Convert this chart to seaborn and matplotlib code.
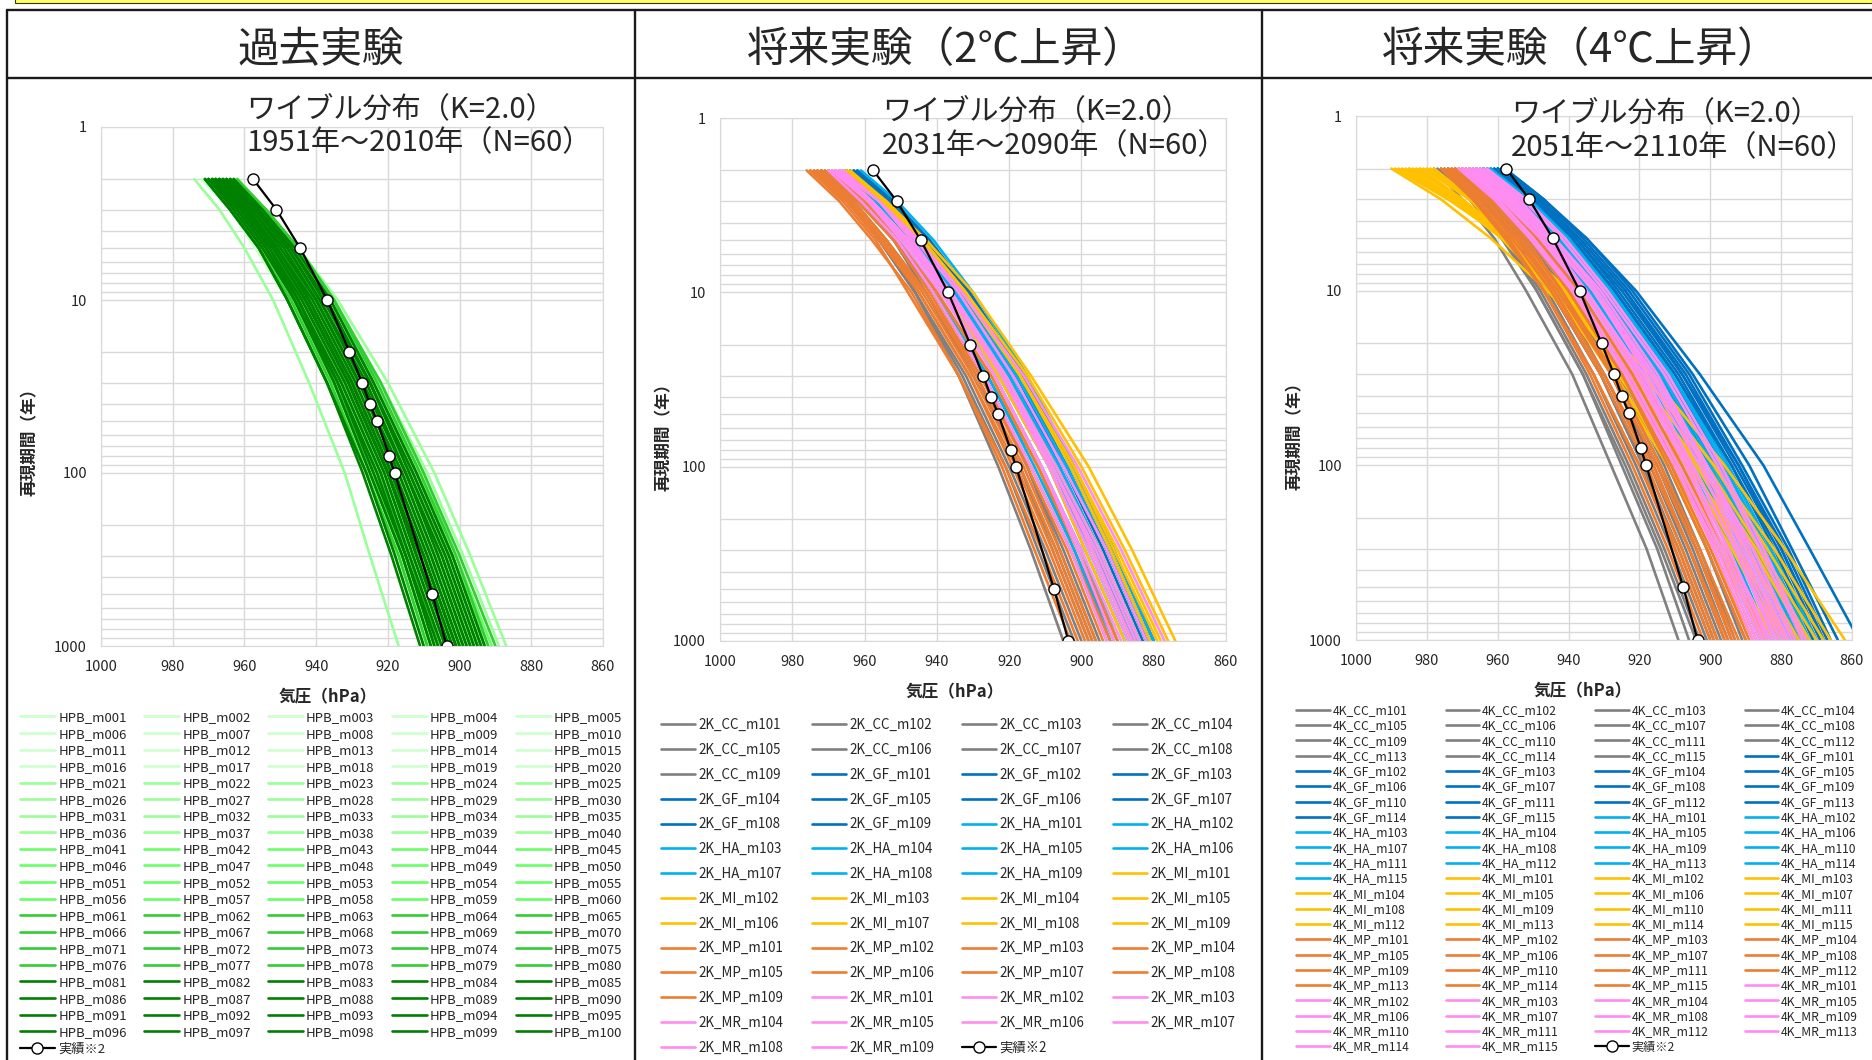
import numpy as np
import pandas as pd
import seaborn as sns
import matplotlib.pyplot as plt
from matplotlib.lines import Line2D
from matplotlib.patches import Rectangle
from matplotlib.ticker import LogLocator, NullFormatter

RP = [2, 3, 5, 10, 30, 100, 300, 1000]

# observed typhoons (実績)
OBS_T = [2, 3, 5, 10, 20, 30, 40, 50, 80, 100, 500, 1000]
OBS_P = [957.6, 951.1, 944.5, 936.9, 930.7, 927.2, 925.0, 923.0, 919.6, 918.1, 907.6, 903.6]

# ---- past experiment HPB_m001..m100 : pressure (hPa) at each return period ----
HPB_NAMES = [f"HPB_m{i:03d}" for i in range(1, 101)]
HPB_SHADES = ["#CCFFCC", "#99FF99", "#66FF66", "#33CC33", "#008000"]  # 20 members each
HPB_P2 = [968, 966, 970, 964, 969, 967, 971, 965, 968, 963,
          970, 966, 972, 967, 964, 969, 965, 971, 968, 966,
          974, 967, 963, 969, 965, 970, 964, 968, 966, 971,
          967, 965, 969, 962, 968, 970, 966, 964, 969, 967,
          968, 965, 970, 963, 967, 969, 966, 971, 964, 968,
          966, 970, 965, 967, 969, 963, 968, 966, 971, 964,
          967, 963, 969, 965, 968, 962, 970, 966, 964, 968,
          966, 971, 965, 969, 967, 963, 968, 970, 964, 966,
          968, 966, 970, 964, 969, 967, 971, 965, 968, 963,
          970, 966, 969, 967, 964, 971, 968, 965, 969, 967]
HPB_P3 = [960, 958, 962, 956, 961, 959, 963, 957, 960, 955,
          962, 958, 964, 959, 956, 961, 957, 963, 960, 958,
          967, 959, 954, 961, 957, 962, 955, 960, 958, 964,
          959, 957, 961, 954, 960, 963, 958, 956, 961, 959,
          960, 957, 962, 954, 959, 961, 958, 964, 956, 960,
          958, 962, 957, 959, 962, 954, 960, 958, 964, 956,
          959, 954, 961, 957, 960, 954, 963, 958, 956, 960,
          958, 964, 957, 961, 959, 955, 960, 962, 956, 958,
          960, 958, 963, 956, 961, 959, 964, 957, 960, 955,
          962, 958, 961, 959, 956, 964, 960, 957, 962, 959]
HPB_P5 = [952, 950, 954, 948, 953, 951, 956, 949, 952, 946,
          954, 950, 957, 951, 947, 954, 949, 955, 952, 950,
          960, 951, 945, 953, 949, 955, 946, 952, 950, 956,
          952, 948, 954, 945, 952, 955, 949, 947, 953, 951,
          952, 948, 955, 945, 951, 953, 950, 956, 947, 952,
          949, 954, 948, 951, 954, 946, 951, 951, 956, 947,
          951, 945, 954, 948, 952, 945, 955, 950, 947, 952,
          950, 956, 948, 953, 951, 946, 952, 955, 947, 949,
          952, 950, 955, 947, 953, 951, 956, 948, 952, 946,
          954, 949, 953, 951, 947, 956, 952, 948, 954, 951]
HPB_P10 = [943, 940, 946, 938, 944, 942, 947, 939, 943, 937,
           945, 941, 948, 943, 938, 945, 940, 947, 944, 941,
           952, 942, 934, 945, 940, 946, 935, 943, 941, 947,
           943, 939, 945, 936, 943, 946, 940, 938, 944, 942,
           944, 939, 946, 936, 942, 945, 940, 948, 937, 943,
           940, 946, 939, 942, 946, 936, 942, 942, 947, 938,
           942, 935, 945, 939, 944, 935, 946, 941, 937, 943,
           940, 947, 939, 945, 942, 936, 943, 946, 938, 940,
           943, 940, 946, 937, 945, 942, 948, 939, 943, 936,
           946, 940, 944, 941, 938, 948, 943, 939, 945, 942]
HPB_P30 = [931, 928, 934, 926, 932, 930, 936, 927, 931, 925,
           933, 929, 937, 931, 926, 934, 928, 935, 932, 929,
           942, 930, 920, 933, 928, 935, 922, 931, 929, 936,
           932, 927, 934, 923, 931, 935, 928, 925, 932, 930,
           932, 926, 935, 922, 930, 933, 928, 937, 925, 931,
           928, 934, 927, 930, 935, 923, 930, 931, 936, 925,
           930, 922, 934, 927, 932, 923, 935, 929, 925, 931,
           928, 936, 926, 933, 930, 924, 931, 935, 925, 928,
           931, 928, 935, 925, 933, 930, 937, 926, 931, 924,
           934, 928, 932, 929, 925, 937, 931, 927, 934, 930]
HPB_P100 = [920, 917, 923, 915, 921, 919, 925, 916, 920, 913,
            922, 918, 926, 920, 914, 923, 917, 924, 921, 918,
            932, 919, 907, 922, 917, 924, 909, 920, 918, 926,
            921, 915, 923, 912, 920, 925, 916, 914, 921, 919,
            921, 915, 924, 910, 919, 922, 917, 926, 913, 920,
            916, 923, 915, 919, 924, 911, 918, 920, 926, 914,
            919, 910, 923, 915, 921, 911, 925, 918, 913, 920,
            917, 926, 915, 922, 919, 912, 920, 924, 914, 916,
            920, 917, 925, 913, 922, 919, 926, 915, 920, 912,
            923, 916, 921, 918, 914, 927, 920, 915, 924, 919]
HPB_P300 = [912, 908, 915, 906, 913, 910, 916, 907, 911, 904,
            914, 909, 917, 912, 905, 914, 908, 916, 913, 910,
            925, 911, 897, 914, 908, 915, 899, 912, 909, 917,
            912, 906, 914, 902, 911, 916, 907, 904, 913, 910,
            913, 905, 915, 901, 910, 914, 908, 918, 903, 912,
            907, 915, 906, 911, 916, 902, 909, 911, 917, 904,
            911, 900, 914, 906, 913, 901, 916, 909, 903, 912,
            908, 917, 905, 914, 910, 902, 911, 915, 904, 907,
            912, 908, 916, 903, 914, 910, 918, 905, 911, 902,
            915, 907, 913, 909, 904, 919, 912, 906, 915, 910]
HPB_P1000 = [903, 899, 906, 897, 904, 901, 908, 898, 902, 895,
             905, 900, 909, 903, 896, 906, 899, 907, 904, 901,
             917, 902, 887, 905, 899, 907, 889, 903, 900, 909,
             904, 897, 906, 893, 902, 908, 898, 895, 904, 901,
             904, 896, 907, 891, 901, 905, 899, 910, 894, 903,
             898, 906, 897, 902, 908, 892, 900, 903, 909, 895,
             902, 890, 906, 897, 904, 892, 908, 900, 894, 903,
             899, 909, 896, 905, 901, 893, 902, 907, 895, 898,
             903, 899, 908, 894, 905, 901, 910, 896, 902, 893,
             906, 898, 904, 900, 895, 911, 903, 897, 907, 901]

# ---- model groups used by the future experiments ----
GROUPS = ["CC", "GF", "HA", "MI", "MP", "MR"]
GROUP_COLORS = ["#808080", "#0070C0", "#00B0F0", "#FFC000", "#ED7D31", "#FF8CF0"]

# ---- +2K experiment, 9 members per group (CC, GF, HA, MI, MP, MR) ----
K2_NAMES = [f"2K_{g}_m{i}" for g in GROUPS for i in range(101, 110)]
K2_P2 = [972, 970, 974, 969, 971, 968, 973, 970, 972,
         964, 963, 965, 962, 966, 964, 963, 965, 962,
         966, 967, 965, 968, 964, 967, 969, 966, 961,
         965, 967, 968, 966, 970, 964, 969, 967, 965,
         975, 973, 976, 972, 974, 971, 975, 973, 970,
         967, 968, 966, 969, 967, 970, 968, 966, 969]
K2_P3 = [964, 961, 965, 960, 962, 959, 964, 961, 963,
         954, 953, 955, 952, 956, 954, 953, 955, 952,
         956, 958, 955, 959, 955, 957, 960, 957, 951,
         954, 956, 958, 955, 960, 954, 959, 958, 955,
         966, 964, 967, 963, 965, 962, 965, 964, 960,
         956, 958, 956, 959, 958, 961, 958, 956, 959]
K2_P5 = [956, 952, 956, 951, 952, 950, 956, 951, 954,
         944, 943, 945, 942, 947, 944, 943, 946, 943,
         946, 948, 945, 949, 945, 947, 950, 947, 941,
         943, 945, 948, 944, 951, 944, 948, 948, 944,
         957, 955, 958, 954, 956, 952, 955, 955, 951,
         945, 948, 947, 950, 949, 951, 948, 946, 949]
K2_P10 = [946, 943, 946, 941, 941, 941, 946, 940, 943,
          933, 931, 934, 931, 936, 933, 931, 935, 932,
          935, 937, 933, 938, 934, 935, 940, 936, 930,
          930, 933, 937, 932, 940, 932, 937, 937, 932,
          948, 945, 947, 943, 945, 942, 943, 944, 940,
          933, 936, 936, 939, 938, 941, 937, 934, 937]
K2_P30 = [934, 929, 932, 927, 927, 927, 933, 926, 930,
          918, 916, 919, 916, 921, 918, 916, 920, 917,
          920, 923, 918, 924, 920, 920, 926, 922, 915,
          914, 917, 922, 915, 925, 917, 921, 923, 917,
          934, 931, 934, 929, 931, 928, 928, 930, 925,
          916, 921, 921, 924, 924, 927, 922, 919, 922]
K2_P100 = [923, 917, 920, 915, 914, 915, 921, 912, 917,
           904, 902, 906, 903, 908, 905, 902, 907, 904,
           907, 909, 904, 911, 907, 906, 913, 908, 902,
           898, 902, 908, 900, 912, 903, 907, 909, 902,
           922, 919, 921, 916, 918, 915, 914, 917, 912,
           901, 907, 908, 911, 911, 914, 909, 905, 908]
K2_P300 = [914, 908, 910, 905, 903, 906, 912, 902, 907,
           893, 891, 895, 892, 897, 894, 891, 896, 893,
           896, 899, 893, 900, 896, 895, 902, 898, 891,
           886, 890, 897, 888, 901, 892, 895, 899, 891,
           913, 909, 911, 906, 908, 904, 903, 907, 901,
           889, 895, 897, 900, 901, 903, 898, 893, 896]
K2_P1000 = [905, 898, 900, 895, 893, 896, 902, 891, 897,
            882, 880, 884, 881, 886, 883, 880, 885, 882,
            885, 888, 882, 890, 886, 884, 892, 887, 880,
            874, 878, 886, 876, 890, 881, 884, 888, 879,
            903, 899, 901, 896, 898, 894, 892, 897, 890,
            877, 884, 886, 889, 891, 893, 887, 882, 885]

# ---- +4K experiment, 15 members per group (CC, GF, HA, MI, MP, MR) ----
K4_NAMES = [f"4K_{g}_m{i}" for g in GROUPS for i in range(101, 116)]
K4_P2 = [975, 972, 978, 970, 974, 969, 976, 971, 973, 968, 977, 972, 970, 974, 969,
         962, 960, 964, 959, 963, 958, 961, 960, 963, 959, 962, 961, 960, 964, 958,
         965, 966, 964, 967, 963, 965, 968, 964, 966, 962, 967, 965, 963, 966, 964,
         985, 990, 982, 987, 980, 988, 983, 986, 979, 984, 981, 989, 978, 985, 982,
         974, 971, 976, 970, 973, 968, 975, 972, 969, 974, 971, 967, 973, 970, 976,
         968, 966, 970, 965, 969, 964, 967, 971, 966, 968, 963, 969, 965, 967, 970]
K4_P3 = [967, 963, 970, 961, 965, 960, 967, 962, 964, 959, 968, 963, 961, 965, 960,
         951, 949, 954, 948, 952, 947, 950, 948, 952, 948, 951, 950, 949, 953, 947,
         955, 956, 953, 957, 952, 955, 958, 954, 956, 951, 957, 954, 952, 956, 953,
         972, 976, 970, 973, 968, 973, 971, 972, 968, 970, 968, 974, 967, 972, 970,
         965, 962, 967, 960, 964, 958, 966, 962, 959, 965, 961, 957, 963, 960, 967,
         958, 956, 960, 954, 959, 953, 957, 961, 956, 957, 952, 958, 955, 957, 960]
K4_P5 = [958, 954, 961, 952, 956, 951, 958, 953, 955, 949, 959, 954, 952, 956, 950,
         941, 938, 943, 937, 941, 936, 939, 935, 942, 937, 939, 940, 938, 943, 935,
         944, 946, 942, 947, 941, 944, 948, 943, 945, 940, 947, 943, 941, 945, 941,
         959, 962, 958, 959, 955, 958, 958, 958, 957, 956, 955, 958, 955, 958, 957,
         956, 952, 958, 951, 954, 949, 957, 953, 949, 955, 951, 947, 954, 950, 957,
         948, 945, 950, 944, 948, 942, 946, 951, 945, 946, 941, 948, 944, 947, 950]
K4_P10 = [949, 945, 952, 942, 945, 940, 948, 942, 945, 939, 949, 943, 941, 946, 939,
          928, 926, 931, 924, 928, 923, 927, 921, 929, 924, 927, 927, 925, 930, 922,
          932, 934, 930, 935, 929, 933, 937, 931, 933, 928, 935, 931, 929, 934, 928,
          945, 946, 945, 942, 941, 942, 945, 943, 944, 940, 941, 941, 942, 942, 943,
          945, 942, 947, 940, 944, 938, 947, 942, 937, 944, 940, 935, 943, 938, 947,
          936, 933, 939, 931, 936, 930, 935, 939, 933, 933, 929, 935, 932, 935, 938]
K4_P30 = [936, 931, 939, 928, 931, 926, 935, 928, 931, 925, 936, 930, 927, 933, 925,
          912, 909, 915, 908, 912, 906, 910, 903, 913, 907, 910, 911, 908, 914, 905,
          916, 919, 914, 920, 912, 917, 922, 915, 917, 911, 920, 915, 913, 918, 911,
          926, 925, 927, 921, 923, 919, 926, 922, 928, 919, 922, 917, 925, 922, 924,
          931, 928, 933, 925, 930, 923, 934, 927, 922, 930, 925, 920, 928, 923, 933,
          921, 918, 924, 915, 921, 913, 919, 924, 917, 916, 912, 919, 916, 920, 923]
K4_P100 = [925, 919, 928, 916, 918, 913, 923, 915, 919, 912, 924, 917, 914, 921, 911,
           898, 894, 900, 892, 896, 891, 895, 885, 899, 892, 894, 897, 893, 900, 889,
           901, 905, 899, 906, 897, 903, 908, 900, 902, 896, 906, 900, 898, 904, 895,
           908, 906, 911, 901, 905, 899, 909, 903, 912, 899, 904, 896, 909, 903, 907,
           918, 915, 920, 912, 917, 910, 922, 914, 908, 916, 911, 906, 915, 909, 920,
           907, 903, 910, 901, 906, 898, 905, 910, 902, 901, 897, 905, 901, 906, 909]
K4_P300 = [915, 910, 918, 906, 908, 903, 913, 905, 909, 901, 914, 907, 904, 911, 901,
           886, 882, 889, 880, 884, 878, 883, 872, 887, 879, 881, 885, 880, 888, 877,
           890, 893, 887, 895, 885, 891, 897, 889, 891, 884, 894, 888, 886, 892, 883,
           894, 890, 898, 886, 892, 882, 896, 887, 900, 884, 890, 879, 897, 888, 893,
           908, 904, 910, 901, 906, 899, 912, 903, 896, 906, 900, 895, 904, 898, 909,
           896, 892, 899, 889, 895, 886, 893, 898, 891, 888, 885, 893, 890, 895, 897]
K4_P1000 = [906, 900, 909, 896, 898, 893, 903, 895, 899, 891, 904, 897, 894, 901, 890,
            874, 870, 877, 868, 872, 866, 871, 858, 875, 867, 869, 873, 868, 876, 864,
            878, 882, 875, 884, 873, 880, 886, 877, 879, 872, 883, 876, 874, 881, 870,
            880, 875, 885, 870, 878, 866, 882, 872, 888, 868, 876, 862, 884, 873, 879,
            898, 894, 900, 890, 896, 888, 902, 892, 885, 895, 889, 884, 893, 887, 899,
            885, 880, 888, 877, 883, 874, 882, 887, 879, 876, 873, 881, 878, 884, 886]

HEADERS = ["過去実験", "将来実験（2℃上昇）", "将来実験（4℃上昇）"]
FIT_LABEL = "ワイブル分布（K=2.0）"
PERIODS = ["1951年～2010年（N=60）", "2031年～2090年（N=60）", "2051年～2110年（N=60）"]
OBS_LABEL = "実績※2"

sns.set_style("white")
plt.rcParams["font.family"] = ["Noto Sans CJK JP", "DejaVu Sans"]

W, H = 1872, 1060
fig = plt.figure(figsize=(W / 100, H / 100), dpi=100)


def fx(px):
    return px / W


def fy(py):
    return 1 - py / H


def row_major(items, ncol):
    # legend fills column by column; reorder so it reads row by row
    n = len(items)
    return [items[r * ncol + c] for c in range(ncol)
            for r in range((n - c + ncol - 1) // ncol)]


def panel(box, names, cols, colors, period, title_xy, ylab_xy, xlab_xy, leg):
    left, top, right, bottom = box
    ax = fig.add_axes([fx(left), fy(bottom), fx(right) - fx(left), fy(top) - fy(bottom)])
    df = pd.DataFrame({
        "model": np.repeat(names, len(RP)),
        "T": np.tile(RP, len(names)),
        "p": np.column_stack(cols).ravel(),
    })
    sns.lineplot(data=df, x="p", y="T", hue="model", hue_order=names,
                 palette=dict(zip(names, colors)), estimator=None, sort=False,
                 legend=False, linewidth=1.9, ax=ax)
    sns.lineplot(x=OBS_P, y=OBS_T, color="black", linewidth=1.6, marker="o",
                 markersize=8, markerfacecolor="white", markeredgecolor="black",
                 markeredgewidth=1.0, estimator=None, sort=False, ax=ax)

    ax.set_yscale("log")
    ax.set_ylim(1000, 1)
    ax.set_xlim(1000, 860)
    ax.set_xticks(np.arange(1000, 859, -20))
    ax.set_yticks([1, 10, 100, 1000])
    ax.set_yticklabels(["1", "10", "100", "1000"])
    ax.yaxis.set_minor_locator(LogLocator(base=10, subs=np.arange(2, 10)))
    ax.yaxis.set_minor_formatter(NullFormatter())
    ax.grid(True, which="both", color="#D9D9D9", linewidth=1.0)
    ax.set_axisbelow(True)
    ax.tick_params(which="both", length=0, labelsize=10.5, labelcolor="#262626", pad=10)
    ax.set_xlabel("")
    ax.set_ylabel("")
    for sp in ax.spines.values():
        sp.set_color("#D9D9D9")

    tx, ty1, ty2 = title_xy
    fig.text(fx(tx), fy(ty1), FIT_LABEL, fontsize=21, ha="left", va="center")
    fig.text(fx(tx), fy(ty2), period, fontsize=21, ha="left", va="center")
    fig.text(fx(ylab_xy[0]), fy(ylab_xy[1]), "再現期間（年）", rotation=90,
             fontsize=12, fontweight="bold", ha="center", va="center")
    fig.text(fx(xlab_xy[0]), fy(xlab_xy[1]), "気圧（hPa）",
             fontsize=12, fontweight="bold", ha="center", va="center")

    lines = ax.get_lines()
    handles = list(lines[:len(names)]) + [lines[len(names)]]
    labels = list(names) + [OBS_LABEL]
    ncol = leg["ncol"]
    ax.legend(row_major(handles, ncol), row_major(labels, ncol),
              loc="upper left", bbox_to_anchor=(fx(leg["x"]), fy(leg["y"])),
              bbox_transform=fig.transFigure, ncol=ncol, frameon=False,
              fontsize=leg["fs"], handlelength=leg["hl"], handletextpad=0.25,
              columnspacing=leg["cs"], labelspacing=leg["ls"],
              borderpad=0, borderaxespad=0)
    return ax


hpb_colors = [HPB_SHADES[i // 20] for i in range(100)]
k2_colors = [GROUP_COLORS[i // 9] for i in range(54)]
k4_colors = [GROUP_COLORS[i // 15] for i in range(90)]

panel((101, 127, 603, 646), HPB_NAMES,
      [HPB_P2, HPB_P3, HPB_P5, HPB_P10, HPB_P30, HPB_P100, HPB_P300, HPB_P1000],
      hpb_colors, PERIODS[0],
      (246, 109, 143), (30, 438), (328, 697),
      dict(ncol=5, x=20, y=711, fs=9.5, hl=2.65, cs=1.3, ls=0.27))
panel((720, 118, 1226, 641), K2_NAMES,
      [K2_P2, K2_P3, K2_P5, K2_P10, K2_P30, K2_P100, K2_P300, K2_P1000],
      k2_colors, PERIODS[1],
      (882, 111, 146), (664, 433), (955, 692),
      dict(ncol=4, x=661, y=718, fs=9.6, hl=2.55, cs=2.12, ls=0.81))
panel((1356, 116, 1852, 640), K4_NAMES,
      [K4_P2, K4_P3, K4_P5, K4_P10, K4_P30, K4_P100, K4_P300, K4_P1000],
      k4_colors, PERIODS[2],
      (1511, 113, 148), (1295, 432), (1583, 691),
      dict(ncol=4, x=1296, y=704, fs=8.7, hl=2.78, cs=2.97, ls=0.19))

# table frame around the three experiments
frame = dict(color="#1A1A1A", linewidth=1.7, transform=fig.transFigure)
fig.add_artist(Line2D([fx(7), 1], [fy(10), fy(10)], **frame))
fig.add_artist(Line2D([fx(7), 1], [fy(78), fy(78)], **frame))
for xb in (7, 635, 1262):
    fig.add_artist(Line2D([fx(xb), fx(xb)], [fy(10), 0], **frame))
fig.add_artist(Rectangle((fx(15), fy(2.5)), 1 - fx(15), fy(-2) - fy(2.5),
                         transform=fig.transFigure, facecolor="#FFFF66",
                         edgecolor="#3A3A00", linewidth=0.8))

for text, cx in zip(HEADERS, (321, 946, 1581)):
    fig.text(fx(cx), fy(51), text, fontsize=30, ha="center", va="center")

fig.savefig("out.png", dpi=100)
